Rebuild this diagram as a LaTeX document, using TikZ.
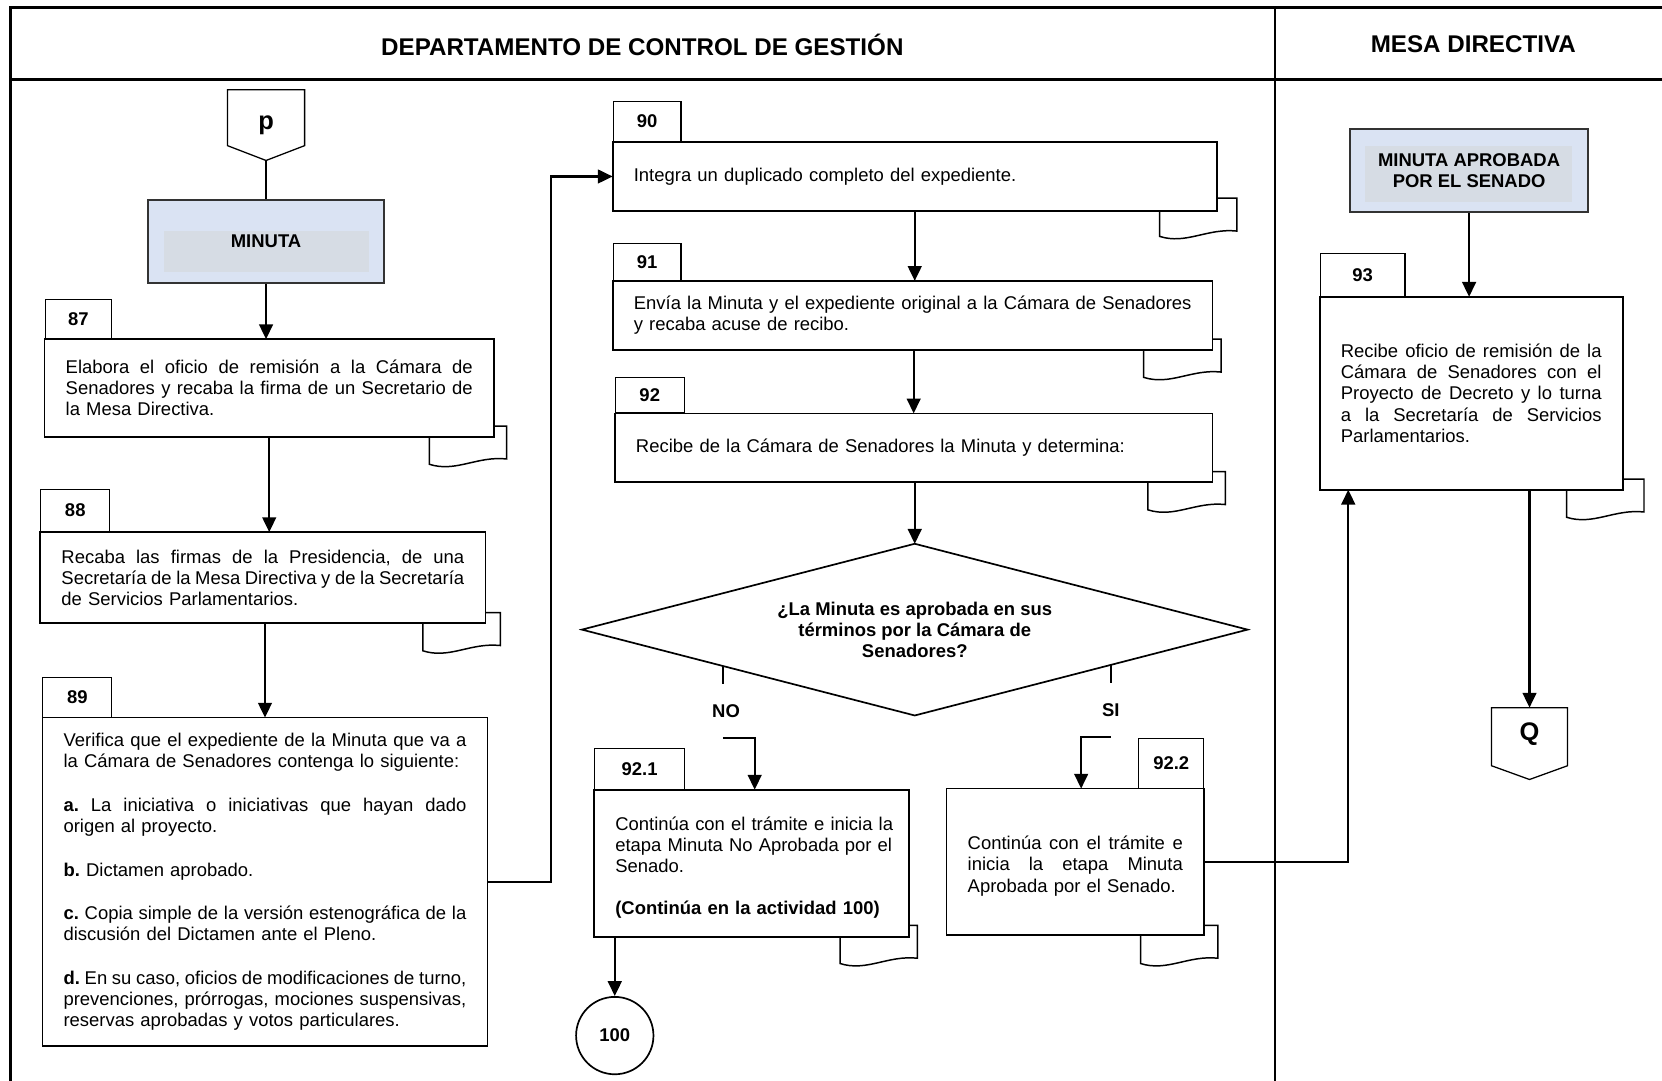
\documentclass[tikz,border=0pt]{standalone}
\usepackage{fontspec}
\setmainfont{Liberation Sans}
\usetikzlibrary{shapes.geometric,arrows.meta,calc,backgrounds}

\definecolor{hdrblue}{RGB}{218,227,243}
\definecolor{hdrgrey}{RGB}{214,220,228}

\frenchspacing
% a justified line of fixed width: interword glue stretches to fill it
\newcommand\jline[2]{\leavevmode{\spaceskip=0.278em plus 1fil minus 0.1em\relax
  \hbox to #1{#2}}}

\tikzset{
  txt/.style={font=\fontsize{8.7}{10}\selectfont},
  btxt/.style={font=\fontsize{8.7}{10}\selectfont\bfseries},
  bigtxt/.style={font=\fontsize{12}{14}\selectfont\bfseries},
  actbox/.style={draw, line width=0.8pt, fill=white, rectangle, inner xsep=10pt,
    inner ysep=0pt, outer sep=0pt, align=left, txt},
  numtab/.style={draw, line width=0.5pt, rectangle, inner sep=0pt, btxt},
  conn/.style={line width=1pt},
  arr/.style={conn, -{Triangle[length=7pt,width=6.5pt]}},
  docline/.style={line width=0.7pt, fill=white},
  frame/.style={line width=1.1pt},
  headbox/.style={draw=black!80, line width=0.9pt, fill=hdrblue, inner sep=0pt},
  lanetitle/.style={font=\fontsize{11.4}{13}\selectfont\bfseries},
}

% document symbol hanging below a box: node, x offset, y offset of its top
\newcommand\docsym[3]{%
  \begin{scope}[shift={($(#1.south east)+(#2,#3)$)}]
    \draw[docline] (0,0) -- (0,31) .. controls (-28,28) and (-48,44) .. (-73,36)
      -- (-73,0) -- cycle;
  \end{scope}}

\begin{document}
\begin{tikzpicture}[x=0.5pt,y=-0.5pt]
\useasboundingbox (0,0) rectangle (1568,1019);
\clip (0,0) rectangle (1568,1019);

% swimlane frame
\draw[frame] (10,7) rectangle (1620,1060);
\draw[frame] (10,75) -- (1620,75);
\draw[frame] (1203,7) -- (1203,1060);
\node[lanetitle] (lane1) at (606,42) {DEPARTAMENTO DE CONTROL DE GESTIÓN};
\node[lanetitle] (lane2) at (1390,42) {MESA DIRECTIVA};

% ---------- left column ----------
\node[bigtxt, minimum width=36pt, minimum height=26pt, inner sep=0pt,
  text height=12.7pt, text depth=2pt] (p) at (251,111) {p};
\draw[line width=0.6pt] (p.north west) -- (p.north east) -- (p.south east)
  -- ($(p.south)+(0,14)$) coordinate (ptip) -- (p.south west) -- cycle;

\node[headbox, minimum width=111pt, minimum height=39pt] (minuta) at (251,228) {};
\fill[hdrgrey] ($(minuta.north west)+(16,30)$) rectangle ($(minuta.south east)+(-15,-11)$);
\node[btxt] (minutaT) at (minuta.center) {MINUTA};

\node[actbox, text width=192pt, minimum height=46pt] (b87) at (254,366) {%
\jline{192pt}{Elabora el oficio de remisión a la Cámara de}\\
\jline{192pt}{Senadores y recaba la firma de un Secretario de}\\
\mbox{la Mesa Directiva.}};
\node[numtab, minimum width=31.5pt, minimum height=18.5pt, anchor=south west] (t87) at (b87.north west) {87};

\node[actbox, text width=190pt, minimum height=43pt] (b88) at (248,545) {%
\jline{190pt}{Recaba las firmas de la Presidencia, de una}\\
\jline{190pt}{Secretaría de la Mesa Directiva y de la Secretaría}\\
\mbox{de Servicios Parlamentarios.}};
\node[numtab, minimum width=32.5pt, minimum height=20pt, anchor=south west] (t88) at (b88.north west) {88};

\node[actbox, text width=190pt, minimum height=155pt] (b89) at (250,832) {%
\jline{190pt}{Verifica que el expediente de la Minuta que va a}\\
\mbox{la Cámara de Senadores contenga lo siguiente:}\\[10.5pt]
\jline{190pt}{\textbf{a.} La iniciativa o iniciativas que hayan dado}\\
\mbox{origen al proyecto.}\\[10.5pt]
\mbox{\textbf{b.} Dictamen aprobado.}\\[10.5pt]
\jline{190pt}{\textbf{c.} Copia simple de la versión estenográfica de la}\\
\mbox{discusión del Dictamen ante el Pleno.}\\[10.5pt]
\jline{190pt}{\textbf{d.} En su caso, oficios de modificaciones de turno,}\\
\jline{190pt}{prevenciones, prórrogas, mociones suspensivas,}\\
\mbox{reservas aprobadas y votos particulares.}};
\node[numtab, minimum width=32.5pt, minimum height=18.5pt, anchor=south west] (t89) at (b89.north west) {89};

% ---------- middle column ----------
\node[actbox, text width=265pt, minimum height=32.5pt] (b90) at (863,166.5) {%
\mbox{Integra un duplicado completo del expediente.}};
\node[numtab, minimum width=32pt, minimum height=19pt, anchor=south west] (t90) at (b90.north west) {90};

\node[actbox, text width=263pt, minimum height=32.5pt] (b91) at (861,297.5) {%
\mbox{Envía la Minuta y el expediente original a la Cámara de Senadores}\\
\mbox{y recaba acuse de recibo.}};
\node[numtab, minimum width=32pt, minimum height=17.5pt, anchor=south west] (t91) at (b91.north west) {91};

\node[actbox, text width=262pt, minimum height=32.5pt] (b92) at (862,422.5) {%
\mbox{Recibe de la Cámara de Senadores la Minuta y determina:}};
\node[numtab, minimum width=32.5pt, minimum height=16.5pt, anchor=south west] (t92) at (b92.north west) {92};

\node[diamond, draw, line width=0.8pt, fill=white, minimum width=314pt, minimum height=81pt,
  aspect=3.9, inner sep=0pt, outer sep=0pt, align=center, btxt] (dia) at (863,594) {%
¿La Minuta es aprobada en sus\\términos por la Cámara de\\Senadores?};

\node[btxt, minimum height=25pt, inner sep=0pt] (no) at (685,671) {NO};
\node[btxt, minimum height=25pt, inner sep=0pt] (si) at (1048,670) {SI};

\node[actbox, text width=128.5pt, minimum height=69.5pt] (b921) at (709,814.5) {%
\mbox{\rule{0pt}{10.4pt}Continúa con el trámite e inicia la}\\
\mbox{etapa Minuta No Aprobada por el}\\
\mbox{Senado.}\\[10pt]
\mbox{\textbf{(Continúa en la actividad 100)}}};
\node[numtab, minimum width=42.5pt, minimum height=19pt, anchor=south west] (t921) at (b921.north west) {92.1};

\node[actbox, text width=101.5pt, minimum height=69pt] (b922) at (1014.5,813) {%
\rule{0pt}{10.4pt}\jline{101.5pt}{Continúa con el trámite e}\\
\jline{101.5pt}{inicia la etapa Minuta}\\
\mbox{Aprobada por el Senado.}};
\node[numtab, minimum width=30.5pt, minimum height=23.5pt, anchor=south east] (t922) at (b922.north east) {92.2};

\node[circle, draw, line width=0.8pt, minimum size=36.5pt, inner sep=0pt, btxt] (c100) at (580,977) {100};

% ---------- right column ----------
\node[headbox, minimum width=112pt, minimum height=39pt] (ma) at (1386,161) {};
\fill[hdrgrey] ($(ma.north west)+(15,17)$) rectangle ($(ma.south east)+(-16,-10)$);
\node[btxt, align=center] (maT) at (ma.center) {MINUTA APROBADA\\POR EL SENADO};

\node[actbox, text width=123pt, minimum height=91pt] (b93) at (1388,371) {%
\jline{123pt}{Recibe oficio de remisión de la}\\
\jline{123pt}{Cámara de Senadores con el}\\
\jline{123pt}{Proyecto de Decreto y lo turna}\\
\jline{123pt}{a la Secretaría de Servicios}\\
\mbox{Parlamentarios.}};
\node[numtab, minimum width=40pt, minimum height=20pt, anchor=south west] (t93) at (b93.north west) {93};

\node[bigtxt, minimum width=35.5pt, minimum height=27pt, inner sep=0pt,
  text height=5.6pt, text depth=2pt] (q) at (1443,695) {Q};
\draw[line width=0.6pt] (q.north west) -- (q.north east) -- (q.south east)
  -- ($(q.south)+(0,13)$) -- (q.south west) -- cycle;

% ---------- document symbols behind the boxes ----------
\begin{scope}[on background layer]
  \docsym{b87}{12}{-10}
  \docsym{b88}{14}{-10}
  \docsym{b90}{19}{-12}
  \docsym{b91}{8}{-10}
  \docsym{b92}{12}{-10}
  \docsym{b921}{8}{-11}
  \docsym{b922}{13}{-9}
  \docsym{b93}{20}{-10}
\end{scope}

% ---------- connectors ----------
\draw[conn] (ptip) -- (minuta.north);
\draw[arr] (minuta.south) -- (minuta.south |- b87.north);
\draw[arr] (b87.south) -- (b87.south |- b88.north);
\draw[arr] (b89.north |- b88.south) -- (b89.north);
\draw[arr] (b89.east) -- ++(60,0) |- (b90.west);
\draw[arr] (b90.south) -- (b90.south |- b91.north);
\draw[arr] (b92.north |- b91.south) -- (b92.north);
\draw[arr] (dia.north |- b92.south) -- (dia.north);

\coordinate (noStart) at ($(dia.west)!0.4236!(dia.south)$);
\coordinate (siStart) at ($(dia.south)!0.589!(dia.east)$);
\draw[conn] (noStart) -- (noStart |- no.north);
\draw[arr] (noStart |- no.south) -| ($(b921.north)+(3,0)$);
\draw[conn] (siStart) -- (siStart |- si.north);
\draw[arr] (siStart |- si.south) -| ($(b922.north)+(5.5,0)$);

\draw[arr] (c100.north |- b921.south) -- (c100.north);
\draw[arr] (b922.east) -| ($(b93.south west)+(27,0)$);
\draw[arr] (ma.south) -- (ma.south |- b93.north);
\draw[arr] (b93.south -| q.north) -- (q.north);
\end{tikzpicture}
\end{document}
